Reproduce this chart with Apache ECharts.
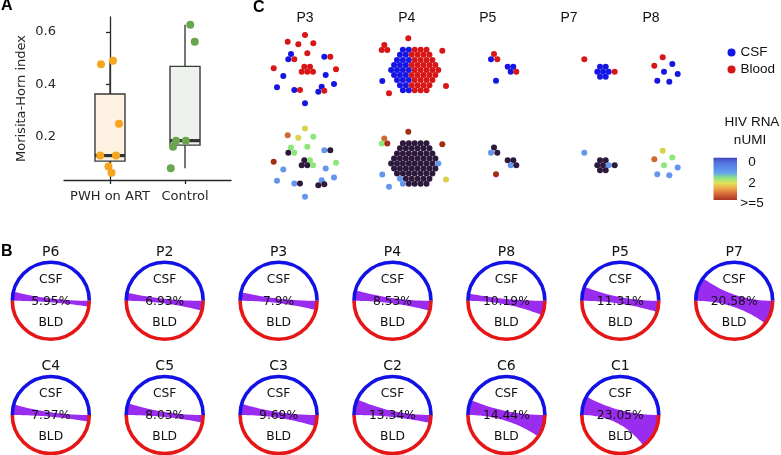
<!DOCTYPE html>
<html><head><meta charset="utf-8">
<script src="https://cdn.jsdelivr.net/npm/echarts@6.0.0/dist/echarts.min.js"></script>
<style>html,body{margin:0;padding:0;background:#fff;}#c{width:781px;height:455px;}</style>
</head><body><div id="c"></div>
<script>
// ---------------- Panel A data ----------------
const groups = ['PWH on ART', 'Control'];
const pwhValues = [0.477, 0.490, 0.250, 0.129, 0.129, 0.087, 0.064];
const pwhJitter = [-0.12, 0.04, 0.12, -0.13, 0.08, -0.02, 0.02];
const ctrlValues = [0.627, 0.563, 0.186, 0.186, 0.163, 0.081];
const ctrlJitter = [0.07, 0.13, -0.12, 0.01, -0.16, -0.19];
const yTicksA = [0.2, 0.4, 0.6];

// ---------------- Panel B data ----------------
const circleNames = ['P6','P2','P3','P4','P8','P5','P7','C4','C5','C3','C2','C6','C1'];
const sharedPct  = [5.95, 6.93, 7.9, 8.53, 10.19, 11.31, 20.58, 7.37, 8.03, 9.69, 13.34, 14.44, 23.05];
const csfArcDeg  = [13.7, 12, 13, 16, 11, 21.5, 36, 16, 18, 17, 24, 23, 28.5];
const bldArcDeg  = [8.8, 15, 14, 15, 22, 17, 36, 10, 11.5, 17, 12, 34, 53];

// ---------------- Panel C data ----------------
const cPatients = ['P3', 'P4', 'P5', 'P7', 'P8'];
// node: [layoutX, layoutY, compartment (C = CSF, B = Blood), HIV RNA class]
// HIV classes: k = 0 (dark), l = low (light blue), g = green, y = yellow, o = orange, r = >=5
const p3Nodes = [
  [0,-34,'B','y'], [-17.3,-27.3,'B','o'], [-6.7,-24.7,'B','y'], [8.3,-25.7,'B','g'],
  [-14,-15,'C','g'], [-16.7,-9.7,'C','k'], [-10.7,-9.7,'B','g'], [2.3,-15.7,'B','g'],
  [19.3,-12.3,'C','l'], [25.3,-12.3,'B','k'], [-31.3,-0.7,'B','r'],
  [-0.7,-2.3,'B','k'], [5,-2.3,'B','g'], [-3.3,2.7,'B','k'], [2.3,2.7,'B','k'], [8,2.7,'B','g'],
  [31,0.3,'B','g'], [-21.7,7,'C','l'], [20.7,6,'C','l'], [-28,18.3,'C','l'],
  [-10.7,21,'C','l'], [-5,21,'B','k'], [16.7,17.7,'C','l'], [13.3,22.7,'C','k'],
  [19.3,21.7,'B','k'], [29,15,'C','l'], [0,34.3,'C','l']
];
const p4OuterNodes = [
  [1.6,-30.7,'B','r'], [-22.4,-24,'B','o'], [-25,-19,'B','g'], [-19.4,-19,'B','r'],
  [35.6,-18.3,'B','r'], [-24.4,12,'C','l'], [-17.7,24.3,'B','l'], [39.3,17,'B','y']
];
// large expanded clone of P4, one string per row of the packed cluster
const p4CloneCompartment = ['CCBBB','CCBBBB','CCCBBBB','CCCBBBBB','CCCCBBBBB','CCCBBBBB','CCCBBBB','CCBBBB','CCBBB'];
const p4CloneHiv         = ['kkkkk','kkkkkk','kkkkkkk','kkkkkkkk','kkkkkkkkl','kkkkkkkk','kkkkkkk','lkkkkk','lkkkk'];
const p5Nodes = [
  [6.3,-15,'B','k'], [3.3,-9.7,'C','l'], [9.6,-9.7,'B','k'], [20,-2.3,'C','k'],
  [25.6,-2.3,'C','k'], [23,2.7,'C','l'], [28.6,2.7,'B','k'], [8.3,11.7,'C','r']
];
const p7Nodes = [
  [15.3,-9.7,'B','l'], [31,-2.3,'C','k'], [36.7,-2.3,'C','k'], [28.3,2.7,'C','k'],
  [34,2.7,'C','k'], [39.7,2.7,'C','l'], [31,7.7,'C','k'], [36.7,7.7,'C','k'], [45.7,2.7,'B','k']
];
const p8Nodes = [
  [11.7,-11.7,'B','y'], [3.3,-3.3,'B','o'], [21.3,-5,'C','g'], [13,2.7,'C','g'],
  [26.7,5,'C','l'], [6.3,11.7,'C','l'], [18.3,12.7,'C','l']
];
const hivLegendLabels = ['0', '2', '>=5'];

// ---------------- styles / layout ----------------
const FONT_A = 'DejaVu Sans';
const FONT_C = 'Liberation Sans';
const csfColor = '#1616e4', bloodColor = '#d81616';
const hivColors = {k:'#2d193c', l:'#6496eb', g:'#8ce67a', y:'#d8d246', o:'#cd6a32', r:'#a52d14'};
const boxFill = ['#fdf2e2', '#edf2ec'];
const dotColorA = ['#f7a51e', '#6aa64f'];

function quantile(s, p) {
  const pos = (s.length - 1) * p, lo = Math.floor(pos), hi = Math.ceil(pos);
  return s[lo] + (s[hi] - s[lo]) * (pos - lo);
}
function boxStats(vals) {
  const s = vals.slice().sort((a, b) => a - b);
  const q1 = quantile(s, 0.25), md = quantile(s, 0.5), q3 = quantile(s, 0.75), iqr = q3 - q1;
  const lo = s.find(v => v >= q1 - 1.5 * iqr);
  const hi = s.slice().reverse().find(v => v <= q3 + 1.5 * iqr);
  return [lo, q1, md, q3, hi];
}

// P4 packed clone -> lattice nodes
const p4CloneCenter = [8, 1], pitchX = 5.9, pitchY = 5.05;
const p4CloneNodes = [];
p4CloneCompartment.forEach((row, r) => {
  const n = row.length;
  for (let k = 0; k < n; k++) {
    p4CloneNodes.push([
      p4CloneCenter[0] + (k - (n - 1) / 2) * pitchX,
      p4CloneCenter[1] + (r - (p4CloneCompartment.length - 1) / 2) * pitchY,
      row[k], p4CloneHiv[r][k]
    ]);
  }
});
const cNodes = [p3Nodes, p4OuterNodes.concat(p4CloneNodes), p5Nodes, p7Nodes, p8Nodes];

function txt(x, y, text, size, family, opts) {
  opts = opts || {};
  return {
    type: 'text', x: x, y: y, silent: true,
    style: {
      text: text, fill: opts.fill || '#111', fontSize: size, fontFamily: family,
      fontWeight: opts.weight || 'normal',
      align: opts.align || 'center', textAlign: opts.align || 'center',
      verticalAlign: 'middle', textVerticalAlign: 'middle'
    }
  };
}

function renderBox(params, api) {
  const x = api.value(0);
  const mn = api.value(1), q1 = api.value(2), md = api.value(3), q3 = api.value(4), mx = api.value(5);
  const w = api.size([0.4, 0])[0];
  const pMin = api.coord([x, mn]), pQ1 = api.coord([x, q1]), pMd = api.coord([x, md]);
  const pQ3 = api.coord([x, q3]), pMx = api.coord([x, mx]);
  const ls = {stroke: '#3a3a3a', lineWidth: 1.4};
  return {type: 'group', children: [
    {type: 'line', shape: {x1: pMx[0], y1: pMx[1], x2: pQ3[0], y2: pQ3[1]}, style: ls},
    {type: 'line', shape: {x1: pQ1[0], y1: pQ1[1], x2: pMin[0], y2: pMin[1]}, style: ls},
    {type: 'rect', shape: {x: pQ3[0] - w / 2, y: pQ3[1], width: w, height: pQ1[1] - pQ3[1]},
     style: {fill: boxFill[params.dataIndex], stroke: '#3a3a3a', lineWidth: 1.4}},
    {type: 'line', shape: {x1: pMd[0] - w / 2, y1: pMd[1], x2: pMd[0] + w / 2, y2: pMd[1]},
     style: {stroke: '#333', lineWidth: 3.2}}
  ]};
}

function renderCircle(params, api) {
  const idx = params.dataIndex;
  const c = api.coord([api.value(0), api.value(1)]);
  const r = api.size([1, 1])[0] * 0.338;
  const cx = c[0], cy = c[1];
  const tL = api.value(3) * Math.PI / 180, tR = api.value(4) * Math.PI / 180;
  const P = a => [cx + r * Math.cos(a), cy + r * Math.sin(a)];
  const L0 = P(Math.PI), L1 = P(Math.PI + tL), R0 = P(0), R1 = P(tR);
  const quad = (a, b, t) => [
    (1 - t) * (1 - t) * a[0] + 2 * (1 - t) * t * cx + t * t * b[0],
    (1 - t) * (1 - t) * a[1] + 2 * (1 - t) * t * cy + t * t * b[1]
  ];
  const N = 30, pts = [];
  for (let k = 0; k <= N; k++) pts.push(P(Math.PI + tL * k / N));
  for (let k = 1; k <= N; k++) pts.push(quad(L1, R0, k / N));
  for (let k = 1; k <= N; k++) pts.push(P(tR * k / N));
  for (let k = 1; k < N; k++) pts.push(quad(R1, L0, k / N));
  const fs = 12.3;
  return {type: 'group', children: [
    {type: 'polygon', shape: {points: pts}, style: {fill: '#9a2cf0'}},
    {type: 'arc', shape: {cx: cx, cy: cy, r: r, startAngle: Math.PI, endAngle: 2 * Math.PI, clockwise: true},
     style: {fill: 'none', stroke: '#1212e6', lineWidth: 3.6}},
    {type: 'arc', shape: {cx: cx, cy: cy, r: r, startAngle: 0, endAngle: Math.PI, clockwise: true},
     style: {fill: 'none', stroke: '#e61616', lineWidth: 3.6}},
    txt(cx, cy - r * 1.27, circleNames[idx], 14, FONT_A),
    txt(cx, cy - r * 0.55, 'CSF', fs, FONT_A),
    txt(cx, cy + 1, api.value(2) + '%', fs, FONT_A),
    txt(cx, cy + r * 0.57, 'BLD', fs, FONT_A)
  ]};
}

const grids = [], xAxes = [], yAxes = [], series = [];
const axisCol = '#262626';

// ---- Panel A ----
grids.push({left: 64, top: 17, width: 167, height: 163});
xAxes.push({
  gridIndex: 0, type: 'value', min: -0.613, max: 1.613, splitLine: {show: false},
  axisLine: {show: true, lineStyle: {color: axisCol, width: 1.3}},
  axisTick: {show: true, customValues: [0, 1], length: 4, lineStyle: {color: axisCol, width: 1.3}},
  axisLabel: {customValues: [0, 1], formatter: v => groups[Math.round(v)], color: axisCol,
              fontSize: 13, fontFamily: FONT_A, margin: 10}
});
yAxes.push({
  gridIndex: 0, type: 'value', min: 0.036, max: 0.657, splitLine: {show: false},
  axisLine: {show: true, lineStyle: {color: axisCol, width: 1.3}},
  axisTick: {show: true, customValues: yTicksA, length: 4, lineStyle: {color: axisCol, width: 1.3}},
  axisLabel: {customValues: yTicksA, formatter: v => v.toFixed(1), color: axisCol,
              fontSize: 13, fontFamily: FONT_A, margin: 8},
  name: 'Morisita-Horn index', nameLocation: 'middle', nameGap: 36,
  nameTextStyle: {fontSize: 13, fontFamily: FONT_A, color: axisCol}
});
series.push({
  type: 'custom', xAxisIndex: 0, yAxisIndex: 0, silent: true, z: 2,
  data: [[0].concat(boxStats(pwhValues)), [1].concat(boxStats(ctrlValues))],
  renderItem: renderBox
});
series.push({
  type: 'scatter', xAxisIndex: 0, yAxisIndex: 0, silent: true, z: 3, symbolSize: 8,
  itemStyle: {color: dotColorA[0], opacity: 1},
  data: pwhValues.map((v, i) => [0 + pwhJitter[i], v])
});
series.push({
  type: 'scatter', xAxisIndex: 0, yAxisIndex: 0, silent: true, z: 3, symbolSize: 8,
  itemStyle: {color: dotColorA[1], opacity: 1},
  data: ctrlValues.map((v, i) => [1 + ctrlJitter[i], v])
});

// ---- Panel B ----
grids.push({left: 0, top: 230, width: 781, height: 225});
xAxes.push({gridIndex: 1, type: 'value', min: -0.446, max: 6.411, show: false});
yAxes.push({gridIndex: 1, type: 'value', min: -0.62, max: 1.35, inverse: true, show: false});
series.push({
  type: 'custom', xAxisIndex: 1, yAxisIndex: 1, silent: true,
  data: circleNames.map((n, i) => [i < 7 ? i : i - 7, i < 7 ? 0 : 1, sharedPct[i], csfArcDeg[i], bldArcDeg[i]]),
  renderItem: renderCircle
});

// ---- Panel C ----
const cTitleX = [305, 406.7, 487.7, 569, 651];
const cRowY = [69, 162.5];
const half = 50;
cPatients.forEach((p, i) => {
  const nodes = cNodes[i];
  [0, 1].forEach(row => {
    const gi = grids.length;
    grids.push({left: cTitleX[i] - half, top: cRowY[row] - half, width: 2 * half, height: 2 * half});
    xAxes.push({gridIndex: gi, type: 'value', min: -half, max: half, show: false});
    yAxes.push({gridIndex: gi, type: 'value', min: -half, max: half, inverse: true, show: false});
    if (row === 0) {
      [['C', 'CSF', csfColor], ['B', 'Blood', bloodColor]].forEach(([code, name, col]) => {
        series.push({
          type: 'scatter', name: name, xAxisIndex: gi, yAxisIndex: gi, silent: true,
          symbolSize: 6, itemStyle: {color: col, opacity: 1},
          data: nodes.filter(n => n[2] === code).map(n => [n[0], n[1]])
        });
      });
    } else {
      series.push({
        type: 'scatter', name: 'HIV RNA nUMI', xAxisIndex: gi, yAxisIndex: gi, silent: true,
        symbolSize: 6, itemStyle: {opacity: 1, color: q => hivColors[nodes[q.dataIndex][3]]},
        data: nodes.map(n => [n[0], n[1]])
      });
    }
  });
});

const graphic = [
  txt(1, 6, 'A', 16, FONT_C, {weight: 'bold', align: 'left', fill: '#000'}),
  txt(1, 252, 'B', 16, FONT_C, {weight: 'bold', align: 'left', fill: '#000'}),
  txt(253, 7.5, 'C', 16, FONT_C, {weight: 'bold', align: 'left', fill: '#000'})
];
cPatients.forEach((p, i) => graphic.push(txt(cTitleX[i], 18, p, 14, FONT_C)));
graphic.push(txt(752, 122.5, 'HIV RNA', 13.5, FONT_C));
graphic.push(txt(750, 140.5, 'nUMI', 13.5, FONT_C));
graphic.push({
  type: 'rect', silent: true, shape: {x: 713.5, y: 157.7, width: 23.5, height: 42.3},
  style: {fill: new echarts.graphic.LinearGradient(0, 0, 0, 1, [
    {offset: 0, color: '#4040b4'}, {offset: 0.1, color: '#4f70dc'}, {offset: 0.35, color: '#64a0f0'},
    {offset: 0.48, color: '#8ee480'}, {offset: 0.6, color: '#dfe45a'}, {offset: 0.72, color: '#eeaa48'},
    {offset: 0.86, color: '#d6663a'}, {offset: 1, color: '#a83420'}
  ])}
});
graphic.push(txt(752, 162, hivLegendLabels[0], 13.5, FONT_C));
graphic.push(txt(752, 183, hivLegendLabels[1], 13.5, FONT_C));
graphic.push(txt(752, 203.5, hivLegendLabels[2], 13.5, FONT_C));

const chart = echarts.init(document.getElementById('c'));
chart.setOption({
  animation: false,
  backgroundColor: '#ffffff',
  grid: grids, xAxis: xAxes, yAxis: yAxes, series: series,
  legend: {
    data: ['CSF', 'Blood'], orient: 'vertical', left: 722.5, top: 40.5,
    itemWidth: 8, itemHeight: 8, itemGap: 3, icon: 'circle', selectedMode: false,
    textStyle: {fontSize: 13.5, fontFamily: FONT_C, color: '#111', lineHeight: 14}
  },
  graphic: graphic
});
</script></body></html>
